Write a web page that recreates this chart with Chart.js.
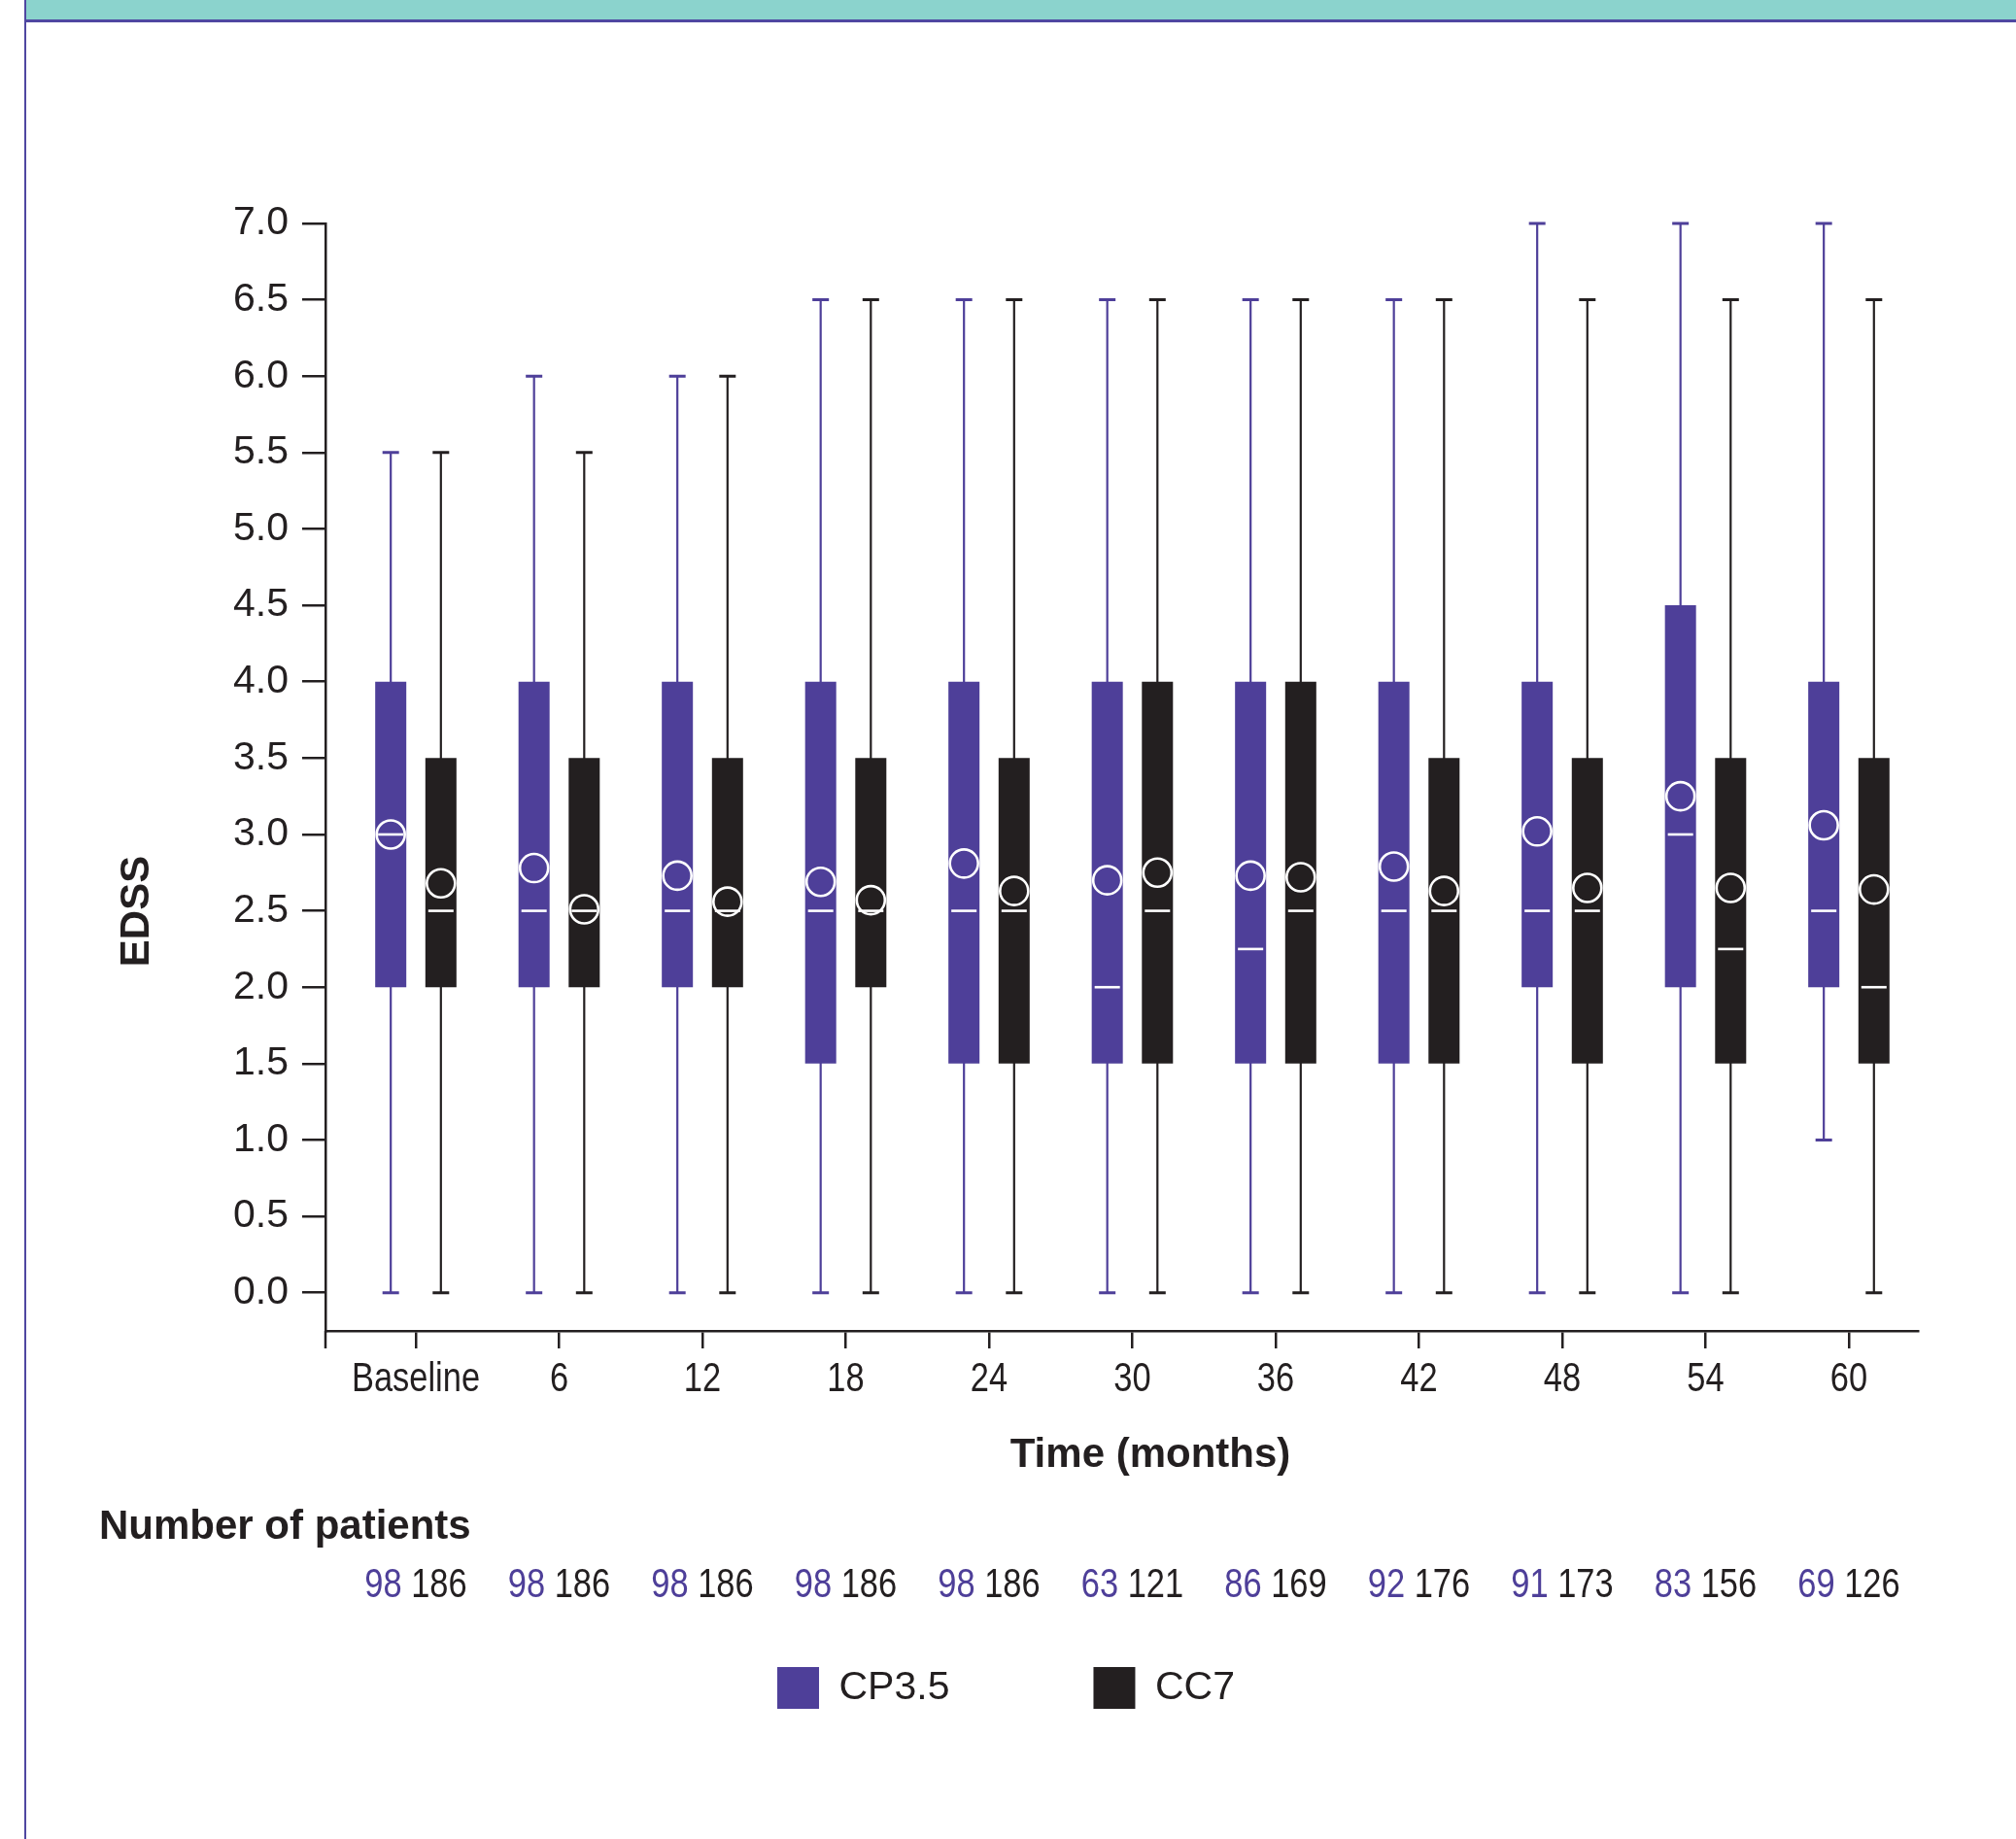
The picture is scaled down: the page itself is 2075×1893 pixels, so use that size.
<!DOCTYPE html>
<html>
<head>
<meta charset="utf-8">
<script src="https://cdn.jsdelivr.net/npm/chart.js@4.4.1/dist/chart.umd.min.js"></script>
<style>
  body { margin: 0; background: #fff; overflow: hidden; }
  .band { position: absolute; left: 25px; top: 0; right: 0; height: 20px; background: #8bd3cd; border-bottom: 3px solid #4f47a1; }
  .edge { position: absolute; left: 25px; top: 0; width: 2px; height: 1893px; background: #4f47a1; }
  canvas { position: absolute; left: 0; top: 0; }
</style>
</head>
<body>
<div class="band"></div>
<div class="edge"></div>
<canvas id="edss" width="2075" height="1893"></canvas>
<script>
// time points (months)
const timeLabels = ['Baseline', '6', '12', '18', '24', '30', '36', '42', '48', '54', '60'];
const yTicks = [0, 0.5, 1, 1.5, 2, 2.5, 3, 3.5, 4, 4.5, 5, 5.5, 6, 6.5, 7];

// CP3.5 box plot stats
const cpMin = [0, 0, 0, 0, 0, 0, 0, 0, 0, 0, 1.0];
const cpQ1 = [2, 2, 2, 1.5, 1.5, 1.5, 1.5, 1.5, 2, 2, 2];
const cpMedian = [3, 2.5, 2.5, 2.5, 2.5, 2.0, 2.25, 2.5, 2.5, 3.0, 2.5];
const cpQ3 = [4, 4, 4, 4, 4, 4, 4, 4, 4, 4.5, 4];
const cpMax = [5.5, 6, 6, 6.5, 6.5, 6.5, 6.5, 6.5, 7, 7, 7];
const cpMean = [3.0, 2.78, 2.73, 2.69, 2.81, 2.70, 2.73, 2.79, 3.02, 3.25, 3.06];
const cpPatients = [98, 98, 98, 98, 98, 63, 86, 92, 91, 83, 69];

// CC7 box plot stats
const ccMin = [0, 0, 0, 0, 0, 0, 0, 0, 0, 0, 0];
const ccQ1 = [2, 2, 2, 2, 1.5, 1.5, 1.5, 1.5, 1.5, 1.5, 1.5];
const ccMedian = [2.5, 2.5, 2.5, 2.5, 2.5, 2.5, 2.5, 2.5, 2.5, 2.25, 2.0];
const ccQ3 = [3.5, 3.5, 3.5, 3.5, 3.5, 4, 4, 3.5, 3.5, 3.5, 3.5];
const ccMax = [5.5, 5.5, 6, 6.5, 6.5, 6.5, 6.5, 6.5, 6.5, 6.5, 6.5];
const ccMean = [2.68, 2.51, 2.56, 2.57, 2.63, 2.75, 2.72, 2.63, 2.65, 2.65, 2.64];
const ccPatients = [186, 186, 186, 186, 186, 121, 169, 176, 173, 156, 126];

const PURPLE = '#4e3f99';
const DARK = '#231f20';
const SANS = "'Liberation Sans', Arial, sans-serif";
const NARROW = 0.82; // horizontal squeeze for the condensed labels

// whiskers, medians, means and the extra texts
const boxExtras = {
  id: 'boxExtras',
  beforeDatasetsDraw(chart) {
    const { ctx, scales: { y } } = chart;
    chart.data.datasets.forEach((ds, d) => {
      const meta = chart.getDatasetMeta(d);
      ctx.save();
      ctx.strokeStyle = ds.backgroundColor;
      meta.data.forEach((bar, i) => {
        const top = y.getPixelForValue(ds.whiskerMax[i]);
        const bottom = y.getPixelForValue(ds.whiskerMin[i]);
        ctx.lineWidth = 2.2;
        ctx.beginPath();
        ctx.moveTo(bar.x, top);
        ctx.lineTo(bar.x, bottom);
        ctx.stroke();
        ctx.lineWidth = 3;
        ctx.beginPath();
        ctx.moveTo(bar.x - 8.5, top);
        ctx.lineTo(bar.x + 8.5, top);
        ctx.moveTo(bar.x - 8.5, bottom);
        ctx.lineTo(bar.x + 8.5, bottom);
        ctx.stroke();
      });
      ctx.restore();
    });
  },
  afterDatasetsDraw(chart) {
    const { ctx, scales: { y } } = chart;
    chart.data.datasets.forEach((ds, d) => {
      const meta = chart.getDatasetMeta(d);
      ctx.save();
      ctx.strokeStyle = '#fff';
      ctx.lineWidth = 2.6;
      meta.data.forEach((bar, i) => {
        const half = bar.width / 2 - 3;
        const my = y.getPixelForValue(ds.median[i]);
        ctx.beginPath();
        ctx.moveTo(bar.x - half, my);
        ctx.lineTo(bar.x + half, my);
        ctx.stroke();
        ctx.beginPath();
        ctx.arc(bar.x, y.getPixelForValue(ds.mean[i]), bar.width / 2 - 1.5, 0, Math.PI * 2);
        ctx.stroke();
      });
      ctx.restore();
    });
  },
  afterDraw(chart) {
    const { ctx, scales: { x } } = chart;
    ctx.save();
    ctx.textBaseline = 'alphabetic';
    // y axis line runs a tick below the x axis
    ctx.strokeStyle = DARK;
    ctx.lineWidth = 2.5;
    ctx.beginPath();
    ctx.moveTo(x.left, x.top);
    ctx.lineTo(x.left, x.top + 18);
    ctx.stroke();

    // condensed category labels
    ctx.fillStyle = DARK;
    ctx.font = '42px ' + SANS;
    ctx.textAlign = 'center';
    timeLabels.forEach((t, i) => {
      ctx.save();
      ctx.translate(x.getPixelForValue(i), 1432);
      ctx.scale(NARROW, 1);
      ctx.fillText(t, 0, 0);
      ctx.restore();
    });

    ctx.font = 'bold 42px ' + SANS;
    ctx.fillText('Time (months)', 1184, 1510);
    ctx.textAlign = 'left';
    ctx.fillText('Number of patients', 102, 1584);
    ctx.save();
    ctx.translate(153, 938);
    ctx.rotate(-Math.PI / 2);
    ctx.textAlign = 'center';
    ctx.fillText('EDSS', 0, 0);
    ctx.restore();

    // patient counts under each time point
    ctx.font = '42px ' + SANS;
    ctx.textAlign = 'left';
    timeLabels.forEach((t, i) => {
      const a = String(cpPatients[i]);
      const b = ' ' + ccPatients[i];
      const wa = ctx.measureText(a).width;
      const wb = ctx.measureText(b).width;
      ctx.save();
      ctx.translate(x.getPixelForValue(i), 1644);
      ctx.scale(NARROW, 1);
      const start = -(wa + wb) / 2;
      ctx.fillStyle = PURPLE;
      ctx.fillText(a, start, 0);
      ctx.fillStyle = DARK;
      ctx.fillText(b, start + wa, 0);
      ctx.restore();
    });
    ctx.restore();
  }
};

new Chart(document.getElementById('edss'), {
  type: 'bar',
  data: {
    labels: timeLabels,
    datasets: [
      {
        label: 'CP3.5',
        data: cpQ1.map((q, i) => [q, cpQ3[i]]),
        backgroundColor: PURPLE,
        borderColor: PURPLE,
        borderWidth: 0,
        borderSkipped: false,
        whiskerMin: cpMin,
        whiskerMax: cpMax,
        median: cpMedian,
        mean: cpMean,
      },
      {
        label: 'CC7',
        data: ccQ1.map((q, i) => [q, ccQ3[i]]),
        backgroundColor: DARK,
        borderColor: DARK,
        borderWidth: 0,
        borderSkipped: false,
        whiskerMin: ccMin,
        whiskerMax: ccMax,
        median: ccMedian,
        mean: ccMean,
      },
    ]
  },
  options: {
    responsive: false,
    animation: false,
    categoryPercentage: 0.7,
    barPercentage: 0.62,
    layout: { padding: { top: 230, left: 97, right: 101, bottom: 124 } },
    plugins: {
      tooltip: { enabled: false },
      title: { display: false },
      legend: {
        display: true,
        position: 'bottom',
        labels: {
          boxWidth: 43,
          boxHeight: 43,
          padding: 148,
          color: DARK,
          font: { family: SANS, size: 41 },
        },
      },
    },
    scales: {
      x: {
        type: 'category',
        offset: true,
        grid: { display: true, drawOnChartArea: false, offset: false, tickLength: 18, color: DARK, lineWidth: 2.5 },
        border: { display: true, color: DARK, width: 2.5 },
        ticks: { display: false, autoSkip: false },
        afterBuildTicks: (s) => { s._startValue = -0.6305; s._valueRange = 11.112; },
        afterFit: (s) => { s.height = 198; },
      },
      y: {
        min: -0.25,
        max: 7,
        grid: { display: true, drawOnChartArea: false, tickLength: 24, color: DARK, lineWidth: 2.5 },
        border: { display: true, color: DARK, width: 2.5 },
        ticks: { color: DARK, font: { family: SANS, size: 41 }, padding: 14, callback: (v) => Number(v).toFixed(1) },
        afterBuildTicks: (s) => { s.ticks = yTicks.map(v => ({ value: v })); },
        afterFit: (s) => { s.width = 238; },
      },
    },
  },
  plugins: [boxExtras],
});
</script>
</body>
</html>
